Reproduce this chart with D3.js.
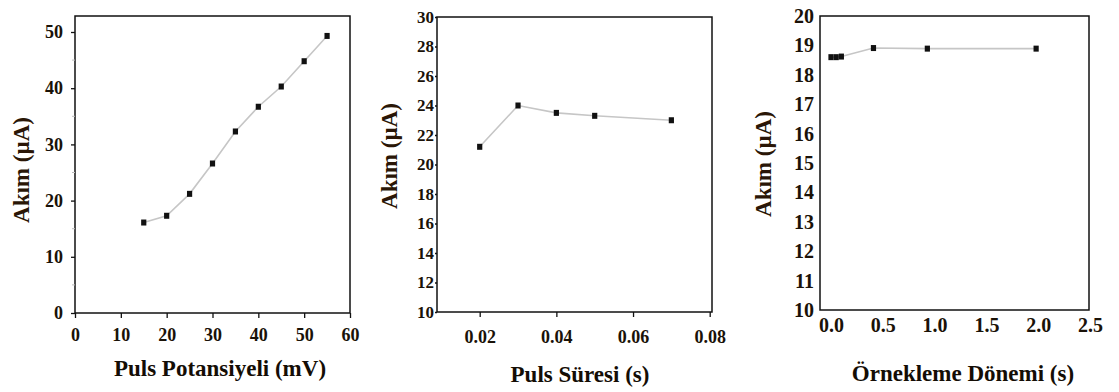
<!DOCTYPE html>
<html>
<head>
<meta charset="utf-8">
<script src="https://cdn.jsdelivr.net/npm/d3@7"></script>
<style>
  html, body { margin: 0; padding: 0; background: #fff; }
  svg { display: block; }
</style>
</head>
<body>
<svg id="chart" width="1119" height="392"></svg>
<script>
// ---- Data ----
const potX = [15, 20, 25, 30, 35, 40, 45, 50, 55];
const potY = [16.1, 17.3, 21.2, 26.6, 32.3, 36.7, 40.3, 44.8, 49.3];
const potXTicks = [0, 10, 20, 30, 40, 50, 60];
const potYTicks = [0, 10, 20, 30, 40, 50];

const durX = [0.02, 0.03, 0.04, 0.05, 0.07];
const durY = [21.2, 24.0, 23.5, 23.3, 23.0];
const durXTicks = [0.02, 0.04, 0.06, 0.08];
const durYTicks = [10, 12, 14, 16, 18, 20, 22, 24, 26, 28, 30];

const smpX = [0.0, 0.05, 0.1, 0.41, 0.93, 1.98];
const smpY = [18.6, 18.6, 18.62, 18.91, 18.89, 18.89];
const smpXTicks = [0.0, 0.5, 1.0, 1.5, 2.0, 2.5];
const smpYTicks = [10, 11, 12, 13, 14, 15, 16, 17, 18, 19, 20];

const yTitle = "Akım (µA)";
const xTitles = ["Puls Potansiyeli (mV)", "Puls Süresi (s)", "Örnekleme Dönemi (s)"];

// ---- Drawing ----
const FONT = "'Liberation Serif', 'Times New Roman', 'DejaVu Serif', serif";
const svg = d3.select("#chart");

function styleText(sel, size, color) {
  sel.style("font-family", FONT).style("font-weight", "bold")
     .style("font-size", size + "px").style("fill", color || "#1a1208");
}

function panel(cfg) {
  const g = svg.append("g");
  const x = d3.scaleLinear().domain(cfg.xDom).range(cfg.xRange);
  const y = d3.scaleLinear().domain(cfg.yDom).range(cfg.yRange);
  const f = cfg.frame; // [left, right, top, bottom]

  g.append("rect")
    .attr("x", f[0]).attr("y", f[2])
    .attr("width", f[1] - f[0]).attr("height", f[3] - f[2])
    .attr("fill", "none").attr("stroke", "#111").attr("stroke-width", 1.5);

  const ya = d3.axisLeft(y).tickValues(cfg.yTicks)
    .tickSize(cfg.yTickLen).tickPadding(cfg.yPad).tickFormat(cfg.yFmt);
  const yg = g.append("g").attr("transform", `translate(${f[0]},0)`).call(ya);
  yg.select(".domain").remove();
  yg.selectAll(".tick line").attr("stroke", "#111").attr("stroke-width", 1.3);
  styleText(yg.selectAll(".tick text"), cfg.yfs);

  const xa = d3.axisBottom(x).tickValues(cfg.xTicks)
    .tickSize(cfg.xTickLen).tickPadding(cfg.xPad).tickFormat(cfg.xFmt);
  const xg = g.append("g").attr("transform", `translate(0,${f[3]})`).call(xa);
  xg.select(".domain").remove();
  xg.selectAll(".tick line").attr("stroke", "#111").attr("stroke-width", 1.3);
  styleText(xg.selectAll(".tick text"), cfg.xfs);

  if (cfg.yMinor) {
    g.append("g").selectAll("line").data(cfg.yMinor).join("line")
      .attr("x1", f[0] - 3).attr("x2", f[0])
      .attr("y1", d => y(d)).attr("y2", d => y(d))
      .attr("stroke", "#bbb").attr("stroke-width", 1);
  }

  const pts = cfg.xs.map((d, i) => [d, cfg.ys[i]]);
  g.append("path")
    .datum(pts)
    .attr("fill", "none").attr("stroke", "#c6c6c6").attr("stroke-width", 1.6)
    .attr("d", d3.line().x(d => x(d[0])).y(d => y(d[1])));

  g.append("g").selectAll("rect").data(pts).join("rect")
    .attr("x", d => x(d[0]) - 2.6).attr("y", d => y(d[1]) - 3)
    .attr("width", 5.2).attr("height", 6)
    .attr("fill", "#111");

  const xt = g.append("text")
    .attr("x", cfg.xtPos[0]).attr("y", cfg.xtPos[1])
    .attr("text-anchor", "middle")
    .text(cfg.xTitle);
  styleText(xt, 23, "#140d05");
  const yt = g.append("text")
    .attr("transform", `translate(${cfg.ytPos[0]},${cfg.ytPos[1]}) rotate(-90)`)
    .attr("text-anchor", "middle")
    .text(yTitle);
  styleText(yt, 23, "#2a1606");
}

panel({
  xs: potX, ys: potY,
  xDom: [0, 60], xRange: [75, 350],
  yDom: [0, 50], yRange: [313, 32],
  frame: [75, 350, 16, 313],
  xTicks: potXTicks, yTicks: potYTicks,
  xFmt: d3.format("d"), yFmt: d3.format("d"),
  yMinor: [5, 15, 25, 35, 45],
  yTickLen: 4, yPad: 8, xTickLen: 5, xPad: 10,
  xfs: 18, yfs: 18,
  xTitle: xTitles[0], xtPos: [220, 376],
  ytPos: [29, 170]
});

panel({
  xs: durX, ys: durY,
  xDom: [0.02, 0.08], xRange: [479.7, 709.7],
  yDom: [10, 30], yRange: [312, 17],
  frame: [437, 712, 17, 312],
  xTicks: durXTicks, yTicks: durYTicks,
  xFmt: d3.format(".2f"), yFmt: d3.format("d"),
  yTickLen: 2, yPad: 1, xTickLen: 5, xPad: 13,
  xfs: 18, yfs: 17,
  xTitle: xTitles[1], xtPos: [580, 382],
  ytPos: [397, 156]
});

panel({
  xs: smpX, ys: smpY,
  xDom: [0, 2.5], xRange: [831, 1090],
  yDom: [10, 20], yRange: [310, 16],
  frame: [820, 1089, 16, 310],
  xTicks: smpXTicks, yTicks: smpYTicks,
  xFmt: d3.format(".1f"), yFmt: d3.format("d"),
  yTickLen: 0, yPad: 6, xTickLen: 0, xPad: 8,
  xfs: 20, yfs: 20,
  xTitle: xTitles[2], xtPos: [963, 381],
  ytPos: [771, 164]
});
</script>
</body>
</html>
